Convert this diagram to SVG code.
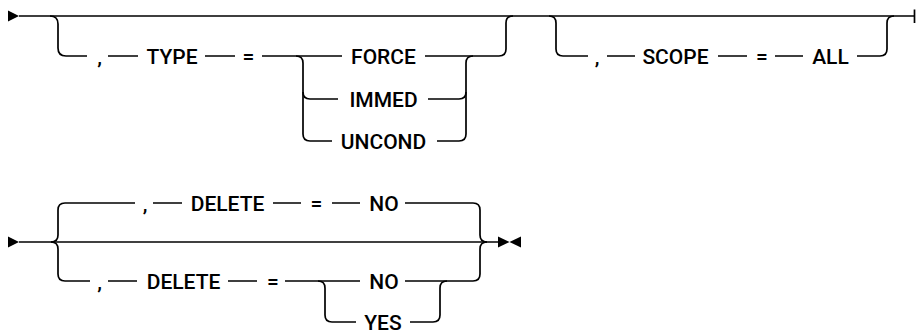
<svg xmlns="http://www.w3.org/2000/svg" width="916" height="331" viewBox="0 0 916 331">
<style>
.c{fill:none;stroke:#000;stroke-width:1.7}
.m{fill:#000;stroke:none}
text{font-family:Roboto,"Liberation Sans",Arial,sans-serif;font-size:21px;font-weight:500;fill:#000;text-anchor:middle}
</style>
<rect width="916" height="331" fill="#fff"/>
<g id="connectors">
<polygon class="m" points="8,10.5 8,21.5 19,16"/>
<path class="c" d="M19,16 H915 M914.5,9.5 V23"/>
<path class="c" d="M50,16 Q58,16 58,24 V48 Q58,56 66,56 H87"/>
<path class="c" d="M108,56 H138 M205,56 H235 M262,56 H342"/>
<path class="c" d="M296,56 Q303,56 303,63 V134 Q303,141 310,141 H332"/>
<path class="c" d="M303,92 Q303,99 310,99 H338"/>
<path class="c" d="M425,56 H499 Q506,56 506,49 V23 Q506,16 513,16"/>
<path class="c" d="M428,99 H459 Q466,99 466,92"/>
<path class="c" d="M437,141 H459 Q466,141 466,134 V63 Q466,56 473,56"/>
<path class="c" d="M549,16 Q556,16 556,23 V49 Q556,56 563,56 H588"/>
<path class="c" d="M607,56 H635 M718,56 H747 M775,56 H803"/>
<path class="c" d="M857,56 H880 Q887,56 887,49 V23 Q887,16 894,16"/>
<polygon class="m" points="8,236.5 8,247.5 19,242"/>
<path class="c" d="M19,242 H499"/>
<path class="c" d="M51,242 Q58,242 58,235 V210 Q58,203 65,203 H135"/>
<path class="c" d="M51,242 Q58,242 58,249 V274 Q58,281 65,281 H90"/>
<path class="c" d="M153,203 H182 M273,203 H301 M332,203 H360"/>
<path class="c" d="M405,203 H473 Q480,203 480,210 V235 Q480,242 487,242"/>
<path class="c" d="M108,281 H137 M228,281 H257 M285,281 H360"/>
<path class="c" d="M405,281 H473 Q480,281 480,274 V249 Q480,242 487,242"/>
<path class="c" d="M318,281 Q325,281 325,288 V315 Q325,322 332,322 H356"/>
<path class="c" d="M410,322 H433 Q440,322 440,315 V288 Q440,281 447,281"/>
<polygon class="m" points="498,236.5 498,247.5 509.5,242"/>
<polygon class="m" points="521,236.5 521,247.5 509.5,242"/>
</g>
<g id="t-comma1"><text x="99.5" y="63.5">,</text></g>
<g id="t-type"><text x="172" y="63.5">TYPE</text></g>
<g id="t-eq1"><text x="248.5" y="63.5">=</text></g>
<g id="t-force"><text x="383.5" y="63.5">FORCE</text></g>
<g id="t-immed"><text x="383.5" y="106.5">IMMED</text></g>
<g id="t-uncond"><text x="383.5" y="148.5">UNCOND</text></g>
<g id="t-comma2"><text x="597" y="63.5">,</text></g>
<g id="t-scope"><text x="675.5" y="63.5">SCOPE</text></g>
<g id="t-eq2"><text x="762" y="63.5">=</text></g>
<g id="t-all"><text x="830.5" y="63.5">ALL</text></g>
<g id="t-comma3"><text x="145" y="210.5">,</text></g>
<g id="t-delete1"><text x="227.5" y="210.5">DELETE</text></g>
<g id="t-eq3"><text x="316.5" y="210.5">=</text></g>
<g id="t-no1"><text x="384" y="210.5">NO</text></g>
<g id="t-comma4"><text x="99.5" y="288.5">,</text></g>
<g id="t-delete2"><text x="183.5" y="288.5">DELETE</text></g>
<g id="t-eq4"><text x="273" y="288.5">=</text></g>
<g id="t-no2"><text x="384" y="288.5">NO</text></g>
<g id="t-yes"><text x="383" y="329.5">YES</text></g>
</svg>
